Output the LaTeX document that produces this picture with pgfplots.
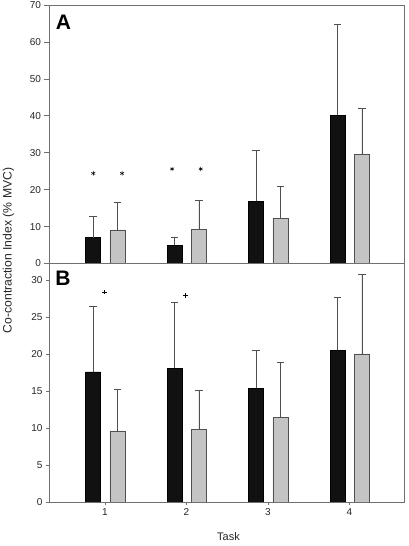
\documentclass[border=0pt]{standalone}
\usepackage{pgfplots}
\usepackage{pgfplotstable}
\pgfplotsset{compat=1.18}
\usepackage{fontspec}
\setmainfont{Liberation Sans}
\definecolor{barblack}{HTML}{111111}
\definecolor{bargray}{HTML}{C4C4C4}
\definecolor{framegray}{HTML}{707070}
\definecolor{errgray}{HTML}{505050}
\pgfplotstableread{
x y e
1 7.0 5.7
2 4.9 2.2
3 16.8 13.8
4 40.2 24.6
}\Ablack
\pgfplotstableread{
x y e
1 9.1 7.5
2 9.3 7.7
3 12.2 8.8
4 29.6 12.5
}\Agray
\pgfplotstableread{
x y e
1 17.6 8.9
2 18.1 8.9
3 15.4 5.1
4 20.5 7.2
}\Bblack
\pgfplotstableread{
x y e
1 9.6 5.6
2 9.8 5.3
3 11.4 7.5
4 20.0 10.7
}\Bgray
\begin{document}
\begin{tikzpicture}
\useasboundingbox (0pt,0pt) rectangle (408pt,546pt);
\pgfplotsset{
  common/.style={
    scale only axis, width=355pt, xmin=0.313, xmax=4.669,
    axis line style={framegray, line width=0.8pt},
    tick style={framegray, line width=0.6pt},
    ticklabel style={font=\fontsize{10}{12}\selectfont, text=black!85},
    /pgf/number format/assume math mode=true,
    tick align=outside, major tick length=4.5pt,
    ytick pos=left, xtick pos=bottom,
    anchor=south west,
  },
  blackbar/.style={ybar, bar width=15pt, bar shift=0pt, fill=barblack, draw=black,
    error bars/.cd, y dir=plus, y explicit, error bar style={errgray, line width=0.7pt},
    error mark options={rotate=90, errgray, mark size=3.6pt, line width=0.7pt}},
  graybar/.style={ybar, bar width=15pt, bar shift=0pt, fill=bargray, draw=errgray, line width=0.5pt,
    error bars/.cd, y dir=plus, y explicit, error bar style={errgray, line width=0.7pt},
    error mark options={rotate=90, errgray, mark size=3.6pt, line width=0.7pt}},
}
% Panel A
\begin{axis}[common, at={(49pt,282.5pt)}, height=258.5pt, ymin=0, ymax=70,
  ytick={0,10,...,70}, xtick=\empty]
\addplot[blackbar] table[x expr=\thisrow{x}-0.147, y=y, y error=e] {\Ablack};
\addplot[graybar] table[x expr=\thisrow{x}+0.153, y=y, y error=e] {\Agray};
\addplot[only marks, mark=asterisk, mark size=2.2pt, black, line width=0.5pt] coordinates {(0.856,24.4) (1.209,24.4) (1.823,25.6) (2.175,25.6)};
\end{axis}
% Panel B
\begin{axis}[common, at={(49pt,44pt)}, height=238.5pt, ymin=0, ymax=32.23,
  ytick={0,5,...,30}, xtick={1,2,3,4}, major tick length=3pt]
\addplot[blackbar] table[x expr=\thisrow{x}-0.147, y=y, y error=e] {\Bblack};
\addplot[graybar] table[x expr=\thisrow{x}+0.153, y=y, y error=e] {\Bgray};
\addplot[only marks, mark=+, mark size=2.2pt, black, line width=0.5pt] coordinates {(0.995,28.4) (1.99,27.9)};
\end{axis}
\node[font=\bfseries\fontsize{21}{24}\selectfont] at (63.5pt,523.5pt) {A};
\node[font=\bfseries\fontsize{21}{24}\selectfont] at (63pt,267.5pt) {B};
\node[rotate=90, font=\fontsize{12.2}{14}\selectfont, text=black!85] at (8.5pt,295.5pt) {Co-contraction Index (\% MVC)};
\node[font=\fontsize{11}{12}\selectfont, text=black!85] at (228.5pt,9pt) {Task};
\end{tikzpicture}
\end{document}
